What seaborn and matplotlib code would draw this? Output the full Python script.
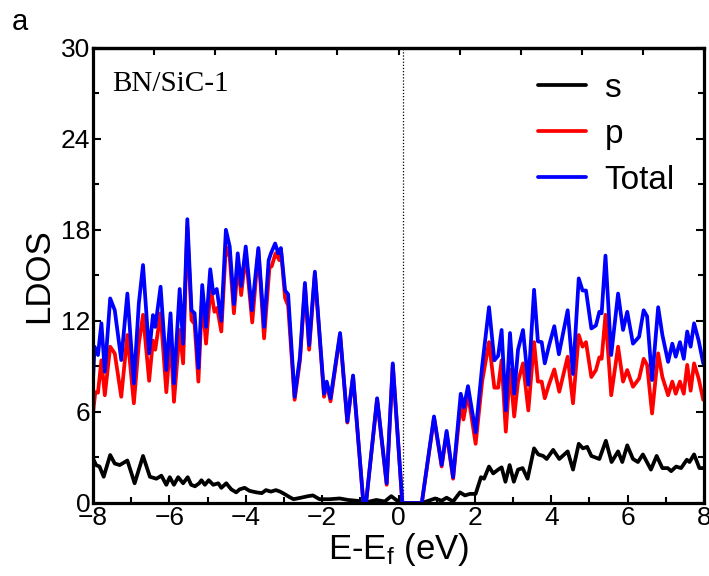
import matplotlib
matplotlib.use("Agg")
import matplotlib.pyplot as plt
import seaborn as sns
import pandas as pd
from matplotlib.ticker import MultipleLocator

# ---------------- data ----------------
e_total = [-8.00, -7.96, -7.87, -7.78, -7.69, -7.55, -7.43, -7.26, -7.10, -6.93, -6.80, -6.69, -6.53, -6.43,
           -6.37, -6.23, -6.08, -5.97, -5.88, -5.73, -5.64, -5.53, -5.42, -5.34, -5.24, -5.14, -5.04, -4.93,
           -4.85, -4.76, -4.64, -4.52, -4.42, -4.31, -4.21, -4.12, -4.00, -3.84, -3.67, -3.52, -3.40, -3.34,
           -3.23, -3.15, -3.08, -2.97, -2.89, -2.72, -2.58, -2.45, -2.34, -2.19, -1.95, -1.88, -1.78, -1.53,
           -1.34, -1.19, -0.92, -0.85, -0.56, -0.31, -0.15, 0.10, 0.61, 0.93, 1.13, 1.26, 1.43, 1.63, 1.71,
           1.82, 2.02, 2.19, 2.37, 2.51, 2.61, 2.70, 2.81, 2.92, 3.03, 3.13, 3.26, 3.40, 3.55, 3.65, 3.75,
           3.83, 3.94, 4.08, 4.20, 4.43, 4.57, 4.72, 4.82, 4.91, 5.05, 5.17, 5.26, 5.32, 5.42, 5.57, 5.75,
           5.88, 5.99, 6.14, 6.30, 6.42, 6.51, 6.64, 6.80, 6.91, 7.06, 7.17, 7.26, 7.37, 7.47, 7.56, 7.65,
           7.74, 7.86, 7.98]
total = [8.1, 10.3, 9.75, 11.84, 8.65, 13.48, 12.7, 9.42, 13.8, 7.88, 13.15, 15.68, 9.86, 12.38,
         11.6, 14.25, 8.76, 12.5, 7.88, 14.1, 10.5, 18.7, 12.7, 12.5, 8.9, 14.36, 11.6, 15.4,
         13.8, 14.1, 12.0, 18.0, 16.9, 13.1, 16.45, 14.3, 16.9, 12.7, 16.8, 11.6, 16.0, 16.45,
         17.1, 16.45, 16.8, 14.0, 13.75, 7.0, 9.64, 14.5, 10.4, 15.24, 7.2, 8.0, 6.9, 11.2,
         5.36, 8.4, 0.0, 0.0, 6.9, 1.3, 9.2, 0.0, 0.0, 5.7, 2.5, 4.75, 1.7, 7.2, 6.3,
         7.7, 4.65, 9.0, 12.9, 9.4, 9.7, 11.4, 6.1, 11.2, 7.2, 10.1, 11.4, 7.8, 14.05, 10.65, 10.6,
         9.2, 10.35, 11.65, 9.8, 12.7, 8.5, 14.8, 14.0, 14.0, 11.5, 11.7, 12.6, 12.5, 16.3, 9.75, 13.8,
         11.4, 12.6, 10.5, 10.95, 12.7, 12.3, 8.1, 12.9, 11.07, 9.3, 10.5, 9.64, 10.6, 9.5, 11.3, 10.3,
         11.84, 10.7, 9.2]

e_p = [-8.00, -7.94, -7.87, -7.78, -7.69, -7.55, -7.43, -7.26, -7.10, -6.93, -6.80, -6.69, -6.53, -6.43,
       -6.37, -6.23, -6.08, -5.97, -5.88, -5.73, -5.64, -5.53, -5.42, -5.34, -5.24, -5.14, -5.04, -4.92,
       -4.82, -4.75, -4.64, -4.52, -4.42, -4.31, -4.20, -4.12, -4.00, -3.83, -3.67, -3.52, -3.38, -3.32,
       -3.22, -3.12, -3.07, -2.97, -2.89, -2.72, -2.58, -2.45, -2.34, -2.19, -1.95, -1.88, -1.78, -1.53,
       -1.34, -1.19, -0.92, -0.85, -0.56, -0.31, -0.15, 0.10, 0.61, 0.93, 1.13, 1.26, 1.43, 1.63, 1.70,
       1.82, 2.02, 2.19, 2.37, 2.51, 2.61, 2.70, 2.81, 2.92, 3.03, 3.13, 3.26, 3.40, 3.55, 3.65, 3.75,
       3.83, 3.94, 4.08, 4.21, 4.43, 4.57, 4.72, 4.82, 4.91, 5.05, 5.17, 5.26, 5.32, 5.42, 5.57, 5.75,
       5.88, 5.99, 6.14, 6.30, 6.42, 6.51, 6.64, 6.80, 6.91, 7.06, 7.17, 7.26, 7.37, 7.47, 7.56, 7.65,
       7.74, 7.86, 7.98]
p = [5.9, 7.3, 7.27, 9.4, 7.1, 10.3, 9.85, 7.0, 11.07, 6.57, 10.5, 12.4, 8.05, 10.7,
     10.1, 12.5, 7.3, 10.85, 6.67, 11.4, 9.2, 18.2, 12.05, 11.8, 8.0, 13.6, 10.5, 14.2,
     12.6, 12.85, 11.3, 16.9, 16.2, 12.5, 15.8, 13.7, 16.4, 11.9, 16.67, 10.85, 15.5, 15.6,
     16.45, 16.0, 16.45, 13.5, 13.0, 6.8, 9.4, 14.3, 10.1, 15.1, 7.0, 7.9, 6.7, 11.1,
     5.3, 8.35, 0.0, 0.0, 6.85, 1.2, 9.1, 0.0, 0.0, 5.6, 2.4, 4.6, 1.6, 6.6, 5.5,
     7.2, 3.9, 8.0, 10.6, 7.6, 7.6, 9.4, 4.7, 8.8, 5.7, 8.0, 9.2, 6.1, 10.6, 8.0, 8.0,
     6.9, 7.8, 8.8, 7.33, 9.64, 6.57, 11.07, 10.3, 10.6, 8.3, 8.76, 9.6, 9.5, 12.4, 7.1, 10.3,
     8.0, 8.76, 7.66, 8.2, 9.5, 9.1, 5.9, 9.86, 8.3, 7.1, 8.0, 7.2, 8.0, 7.2, 9.1, 7.4,
     9.2, 8.2, 6.8]

e_s = [-8.00, -7.92, -7.83, -7.72, -7.55, -7.43, -7.30, -7.10, -6.91, -6.69, -6.51, -6.34, -6.21, -6.08,
       -5.99, -5.88, -5.77, -5.64, -5.52, -5.43, -5.33, -5.22, -5.16, -5.07, -4.97, -4.85, -4.72, -4.64,
       -4.51, -4.38, -4.25, -4.16, -4.03, -3.90, -3.72, -3.58, -3.47, -3.34, -3.21, -3.10, -2.99, -2.86,
       -2.75, -2.55, -2.37, -2.24, -2.07, -1.80, -1.54, -1.32, -1.10, -0.84, -0.58, -0.36, -0.19, -0.06,
       0.13, 0.61, 0.79, 0.96, 1.13, 1.26, 1.43, 1.61, 1.74, 1.87, 2.02, 2.16, 2.24, 2.37, 2.48, 2.61,
       2.70, 2.80, 2.91, 3.02, 3.13, 3.25, 3.38, 3.55, 3.66, 3.79, 3.88, 4.05, 4.21, 4.43, 4.57, 4.72,
       4.83, 4.94, 5.05, 5.26, 5.43, 5.58, 5.75, 5.86, 5.99, 6.14, 6.27, 6.40, 6.61, 6.76, 6.91, 7.05,
       7.14, 7.27, 7.40, 7.55, 7.62, 7.74, 7.88, 7.98]
s = [2.94, 2.5, 2.4, 1.73, 3.16, 2.6, 2.5, 2.8, 1.3, 3.1, 1.73, 1.6, 1.8, 1.2,
     1.7, 1.2, 1.7, 1.3, 1.7, 1.2, 1.1, 1.3, 1.5, 1.2, 1.5, 1.2, 1.3, 1.0,
     1.3, 0.9, 0.7, 0.9, 1.0, 0.8, 0.7, 0.65, 0.85, 0.75, 0.85, 0.75, 0.6, 0.4,
     0.25, 0.35, 0.45, 0.5, 0.25, 0.25, 0.3, 0.2, 0.15, 0.05, 0.2, 0.1, 0.45, 0.2,
     0.0, 0.0, 0.15, 0.3, 0.15, 0.35, 0.1, 0.7, 0.5, 0.6, 0.6, 1.7, 1.6, 2.4, 1.95, 2.2,
     2.35, 1.4, 2.5, 1.4, 2.2, 2.3, 1.6, 3.6, 3.2, 3.1, 2.9, 3.5, 2.9, 3.4, 2.2, 3.9,
     3.6, 3.7, 3.1, 2.9, 4.1, 2.7, 3.4, 2.7, 3.8, 2.9, 2.7, 3.2, 2.2, 3.1, 2.3, 2.3,
     2.1, 2.4, 2.3, 2.85, 2.7, 3.2, 2.3, 2.3]

series_names = ["s", "p", "Total"]
series_colors = ["black", "#ff0000", "#0000ff"]
x_ticks = [-8, -6, -4, -2, 0, 2, 4, 6, 8]
y_ticks = [0, 6, 12, 18, 24, 30]
fermi = 0.12
panel_text = "BN/SiC-1"

# ---------------- figure ----------------
sns.set_style("ticks")
plt.rcParams["font.family"] = ["Liberation Sans", "DejaVu Sans"]
plt.rcParams["mathtext.fontset"] = "custom"
plt.rcParams["mathtext.rm"] = "Liberation Sans"
plt.rcParams["mathtext.it"] = "Liberation Sans"
for key in ["text.color", "axes.labelcolor", "xtick.color", "ytick.color", "axes.edgecolor"]:
    plt.rcParams[key] = "black"

fig = plt.figure(figsize=(7.09, 5.76), dpi=100)
ax = fig.add_axes([93 / 709, 1 - 503 / 576, 611 / 709, (503 - 47.7) / 576])

frames = [
    pd.DataFrame({"E": e_s, "DOS": s}),
    pd.DataFrame({"E": e_p, "DOS": p}),
    pd.DataFrame({"E": e_total, "DOS": total}),
]
for df, name, col in zip(frames, series_names, series_colors):
    sns.lineplot(data=df, x="E", y="DOS", ax=ax, color=col, lw=2.7, label=name,
                 sort=False, estimator=None, solid_joinstyle="round")

ax.axvline(fermi, color="black", lw=0.9, ls=(0, (1, 1.5)), zorder=0)

ax.set_xlim(-8, 8)
ax.set_ylim(0, 30)
ax.set_xticks(x_ticks)
ax.set_yticks(y_ticks)
ax.xaxis.set_minor_locator(MultipleLocator(1))
ax.yaxis.set_minor_locator(MultipleLocator(3))
ax.tick_params(which="both", direction="in", top=False, right=True, width=1.5,
               labelsize=19, pad=2)
ax.tick_params(which="major", length=6)
ax.tick_params(which="minor", length=4)
for sp in ax.spines.values():
    sp.set_linewidth(2.3)

ax.set_xlabel(r"E-E$_\mathrm{f}$ (eV)", fontsize=25, labelpad=1)
ax.set_ylabel("LDOS", fontsize=25, labelpad=4)

# top axis ticks (10 equal divisions, no labels)
sec = ax.secondary_xaxis("top", functions=(lambda x: (x + 8) / 1.6, lambda t: t * 1.6 - 8))
sec.set_xticks(range(0, 11))
sec.tick_params(direction="in", length=5, width=1.5, labeltop=False)
sec.spines["top"].set_linewidth(2.3)

ax.text(0.032, 0.905, panel_text, transform=ax.transAxes, fontsize=21,
        family=["Liberation Serif", "DejaVu Serif"], va="baseline", ha="left")

leg = ax.legend(loc="upper left", bbox_to_anchor=(0.728, 0.945), frameon=False,
                fontsize=24, handlelength=1.45, handletextpad=0.55, labelspacing=0.45,
                borderpad=0, borderaxespad=0)
for line in leg.get_lines():
    line.set_linewidth(2.7)

fig.text(12 / 709, 1 - 30 / 576, "a", fontsize=21, va="baseline", ha="left")

fig.savefig("out.png", dpi=100)
